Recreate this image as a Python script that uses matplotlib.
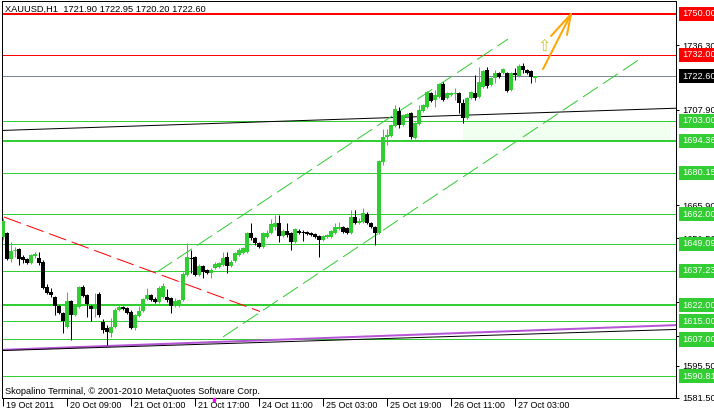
import matplotlib.pyplot as plt
from matplotlib.transforms import ScaledTranslation, blended_transform_factory
from matplotlib.patches import Rectangle

plt.rcParams['font.family'] = ['Liberation Sans', 'DejaVu Sans']
plt.rcParams['lines.scale_dashes'] = False

# XAUUSD H1, 19-27 Oct 2011
opens = [1652.0, 1653.8, 1642.3, 1645.9, 1646.7, 1643.2, 1642.3, 1640.6, 1643.7, 1642.8,
         1641.0, 1630.0, 1627.9, 1625.7, 1621.7, 1618.6, 1612.5, 1623.9, 1617.7, 1621.3,
         1630.0, 1626.5, 1621.7, 1620.4, 1627.0, 1614.7, 1612.0, 1609.8, 1612.5, 1619.9,
         1621.3, 1620.8, 1619.1, 1612.0, 1617.3, 1619.5, 1624.8, 1626.5, 1624.8, 1623.5,
         1625.7, 1625.7, 1625.2, 1621.7, 1621.7, 1624.3, 1635.3, 1643.2, 1643.2, 1635.3,
         1639.3, 1637.5, 1636.2, 1638.4, 1638.8, 1639.7, 1643.2, 1639.3, 1641.5, 1644.1,
         1645.0, 1645.4, 1653.8, 1651.6, 1649.4, 1647.6, 1652.0, 1653.8, 1656.4, 1658.2,
         1652.5, 1654.6, 1653.8, 1649.8, 1654.6, 1654.6, 1654.2, 1653.8, 1653.3, 1652.5,
         1650.7, 1652.0, 1652.0, 1653.8, 1655.5, 1656.4, 1656.0, 1653.8, 1660.8, 1658.2,
         1658.6, 1662.1, 1658.2, 1656.4, 1653.8, 1685.0, 1696.0, 1696.4, 1700.8, 1707.4,
         1701.2, 1704.7, 1706.5, 1695.5, 1701.7, 1707.4, 1709.1, 1715.3, 1712.2, 1713.5,
         1719.2, 1713.1, 1714.4, 1714.9, 1715.3, 1710.9, 1704.3, 1713.1, 1715.3, 1713.5,
         1717.9, 1725.4, 1718.8, 1721.9, 1724.1, 1724.1, 1724.1, 1716.6, 1724.1, 1722.8,
         1727.2, 1725.4, 1725.0, 1721.9]
closes = [1659.0, 1642.3, 1645.9, 1646.3, 1642.3, 1641.9, 1640.6, 1644.1, 1644.5, 1640.6,
          1629.6, 1627.4, 1626.5, 1621.7, 1618.6, 1615.1, 1623.9, 1617.7, 1621.7, 1630.0,
          1626.1, 1622.6, 1620.4, 1621.7, 1617.7, 1611.2, 1610.3, 1612.5, 1619.9, 1621.3,
          1620.4, 1618.6, 1612.0, 1617.7, 1619.5, 1624.8, 1626.5, 1624.3, 1623.5, 1629.6,
          1630.5, 1624.3, 1621.7, 1623.9, 1624.3, 1635.8, 1643.2, 1642.8, 1635.3, 1639.3,
          1636.6, 1636.2, 1637.5, 1640.2, 1640.6, 1642.8, 1639.3, 1641.0, 1645.0, 1646.3,
          1647.2, 1653.8, 1651.6, 1649.4, 1647.6, 1653.8, 1653.8, 1657.7, 1658.2, 1652.5,
          1654.6, 1652.9, 1649.8, 1655.5, 1653.8, 1654.2, 1653.3, 1652.9, 1652.0, 1650.7,
          1652.5, 1652.9, 1654.6, 1656.4, 1656.4, 1654.2, 1653.8, 1660.8, 1658.2, 1659.0,
          1662.6, 1658.2, 1656.4, 1653.8, 1685.4, 1696.0, 1696.8, 1701.2, 1708.3, 1701.2,
          1705.6, 1706.1, 1696.0, 1702.1, 1707.8, 1710.0, 1715.7, 1711.8, 1714.4, 1719.2,
          1712.2, 1715.3, 1715.3, 1715.3, 1710.9, 1704.3, 1713.1, 1715.7, 1713.1, 1720.1,
          1725.0, 1718.4, 1721.9, 1724.1, 1722.3, 1725.8, 1716.2, 1724.1, 1723.2, 1727.2,
          1725.4, 1724.1, 1722.3, 1722.6]
highs = [1660.4, 1654.2, 1649.8, 1647.6, 1647.2, 1644.1, 1642.8, 1644.5, 1645.4, 1645.4,
         1641.9, 1631.4, 1629.6, 1626.1, 1622.1, 1619.1, 1627.9, 1624.3, 1622.6, 1630.5,
         1630.9, 1627.0, 1622.1, 1627.4, 1627.9, 1616.0, 1613.4, 1616.4, 1620.8, 1622.1,
         1621.7, 1621.3, 1619.9, 1618.2, 1621.7, 1625.2, 1629.6, 1627.0, 1625.7, 1630.5,
         1631.8, 1629.2, 1625.7, 1625.2, 1624.8, 1636.6, 1649.4, 1646.3, 1643.7, 1640.2,
         1639.7, 1638.0, 1638.4, 1641.0, 1641.0, 1645.4, 1645.4, 1641.9, 1645.4, 1647.2,
         1647.6, 1654.2, 1658.2, 1652.0, 1649.8, 1654.2, 1655.1, 1659.9, 1661.7, 1661.7,
         1655.5, 1658.2, 1654.2, 1656.0, 1655.5, 1655.1, 1654.6, 1654.2, 1653.8, 1652.9,
         1652.9, 1653.3, 1655.1, 1658.2, 1658.6, 1656.9, 1656.4, 1663.9, 1663.9, 1660.4,
         1664.8, 1663.0, 1658.6, 1656.9, 1685.9, 1699.5, 1699.5, 1701.7, 1710.0, 1709.1,
         1706.1, 1706.5, 1706.9, 1702.6, 1710.0, 1710.5, 1716.2, 1715.7, 1716.6, 1719.7,
         1720.1, 1715.7, 1715.7, 1717.5, 1715.7, 1712.7, 1713.5, 1716.2, 1723.2, 1726.7,
         1725.4, 1726.7, 1722.3, 1725.4, 1724.5, 1726.3, 1724.5, 1724.5, 1726.3, 1728.0,
         1728.5, 1725.8, 1725.4, 1722.95]
lows = [1650.7, 1641.9, 1641.0, 1643.2, 1639.7, 1640.6, 1640.2, 1640.2, 1642.8, 1639.7,
        1629.2, 1627.0, 1625.7, 1617.7, 1618.2, 1609.8, 1612.0, 1606.8, 1617.3, 1620.8,
        1625.7, 1616.9, 1615.1, 1616.9, 1616.9, 1609.8, 1604.6, 1608.1, 1612.0, 1619.5,
        1619.9, 1618.2, 1611.6, 1611.2, 1616.9, 1619.1, 1624.3, 1623.9, 1623.0, 1623.0,
        1625.2, 1623.5, 1618.6, 1621.3, 1621.3, 1623.9, 1634.9, 1636.2, 1634.9, 1634.9,
        1634.0, 1635.8, 1634.0, 1638.0, 1638.4, 1639.3, 1636.2, 1638.8, 1641.0, 1643.7,
        1644.5, 1645.0, 1650.7, 1648.5, 1647.2, 1647.2, 1651.6, 1653.3, 1655.1, 1649.8,
        1652.0, 1652.0, 1646.3, 1649.4, 1653.3, 1650.3, 1652.9, 1652.5, 1651.6, 1643.2,
        1650.3, 1651.6, 1651.6, 1653.3, 1655.1, 1653.8, 1653.3, 1653.3, 1657.7, 1657.7,
        1658.2, 1657.7, 1656.0, 1648.5, 1653.3, 1683.6, 1692.4, 1696.0, 1700.4, 1699.9,
        1700.8, 1704.3, 1695.1, 1695.1, 1701.2, 1706.9, 1708.7, 1711.3, 1709.1, 1713.1,
        1711.8, 1712.7, 1714.0, 1712.2, 1706.5, 1702.1, 1703.9, 1712.7, 1712.2, 1713.1,
        1717.5, 1717.5, 1718.4, 1719.7, 1721.9, 1723.6, 1715.7, 1716.2, 1721.0, 1722.3,
        1724.1, 1723.6, 1719.7, 1720.2]

x_ticks = [0, 16, 32, 48, 64, 80, 96, 112, 128]
x_labels = ["19 Oct 2011", "20 Oct 09:00", "21 Oct 01:00", "21 Oct 17:00", "24 Oct 11:00",
            "25 Oct 03:00", "25 Oct 19:00", "26 Oct 11:00", "27 Oct 03:00"]
y_ticks = [1736.30, 1707.90, 1665.90, 1651.50, 1623.50, 1608.50, 1595.50, 1581.50]

# niveles horizontales: precio, color, grosor (px), color de la etiqueta
niveles = [
    (1750.00, "red", 2, "red"),
    (1732.00, "red", 1, "red"),
    (1722.60, "#778899", 1, "black"),
    (1703.00, "#32CD32", 1, "#32CD32"),
    (1694.36, "#32CD32", 2, "#32CD32"),
    (1680.15, "#32CD32", 1, "#32CD32"),
    (1662.00, "#32CD32", 1, "#32CD32"),
    (1649.09, "#32CD32", 1, "#32CD32"),
    (1637.23, "#32CD32", 1, "#32CD32"),
    (1622.00, "#32CD32", 2, "#32CD32"),
    (1615.00, "#32CD32", 1, "#32CD32"),
    (1607.00, "#32CD32", 1, "#32CD32"),
    (1590.81, "#32CD32", 1, "#32CD32"),
]

# lineas de tendencia: (x0, y0, x1, y1), color, grosor, discontinua
tendencias = [
    ((-0.75, 1698.8, 168.25, 1708.6), "black", 1, False),
    ((-0.75, 1602.4, 168.25, 1613.3), "#B655D6", 2, False),
    ((-0.75, 1602.1, 168.25, 1611.4), "black", 1, False),
    ((0.25, 1660.8, 64.25, 1619.3), "red", 1, True),
    ((38.5, 1636.6, 126.25, 1739.0), "#32CD32", 1, True),
    ((55.0, 1608.1, 160.0, 1731.1), "#32CD32", 1, True),
]
flechas = [(135, 1725.8, 142, 1750.0), (137, 1740.3, 142, 1750.0), (141, 1740.8, 142, 1750.0)]
zona = (115, 167, 1694.36, 1703.00)

PX = 0.72  # 1 px en puntos a 100 dpi

fig = plt.figure(figsize=(7.14, 4.16), dpi=100)
ax = fig.add_axes([2/714, 18.5/416, 674/714, 396.5/416])
ax.set_xlim(-0.25, 168.25)
ax.set_ylim(1581.5, 1755.7)

# zona sombreada
ax.add_patch(Rectangle((zona[0], zona[2]), zona[1] - zona[0], zona[3] - zona[2],
                       fc="#F0FFF0", ec="none", zorder=0))

for precio, color, lw, _ in niveles:
    ax.axhline(precio, color=color, lw=lw * PX, zorder=1)

for (x0, y0, x1, y1), color, lw, dash in tendencias:
    if dash:
        ax.plot([x0, x1], [y0, y1], color=color, lw=lw * PX, dashes=(13, 4.3), zorder=2)
    else:
        ax.plot([x0, x1], [y0, y1], color=color, lw=lw * PX, zorder=2)

for x0, y0, x1, y1 in flechas:
    ax.plot([x0, x1], [y0, y1], color="#FFA500", lw=2 * PX, solid_capstyle="round", zorder=4)
ax.text(135.2, 1735.6, "\u21e7", color="#C8C828", fontsize=11.5, ha="center", va="center",
        family="DejaVu Sans", zorder=4)

# velas
for i, (o, c, h, l) in enumerate(zip(opens, closes, highs, lows)):
    col = "#32CD32" if c >= o else "black"
    ax.vlines(i, l, h, color=col, lw=PX, zorder=3)
    alto = abs(c - o)
    if alto < 0.45:
        ax.hlines(c, i - 0.4, i + 0.4, color=col, lw=PX, zorder=3)
    else:
        ax.bar(i, alto, bottom=min(o, c), width=0.8, color=col, lw=0, zorder=3)

for s in ax.spines.values():
    s.set_color("black")
    s.set_linewidth(PX)

ax.set_xticks(x_ticks)
ax.set_xticklabels(x_labels, fontsize=6.5, ha="left")
ax.tick_params(axis="x", length=8 * PX, width=PX, pad=0, direction="out")
off = ScaledTranslation(3/100, 5/100, fig.dpi_scale_trans)
for lab in ax.get_xticklabels():
    lab.set_transform(lab.get_transform() + off)

ax.yaxis.tick_right()
ax.set_yticks(y_ticks)
ax.set_yticklabels([f"{v:.2f}" for v in y_ticks], fontsize=6.7)
ax.tick_params(axis="y", length=3 * PX, width=PX, pad=3 * PX, direction="out")

# etiquetas de precio de los niveles
for precio, _, _, fondo in niveles:
    ax.annotate(f"{precio:.2f}", xy=(1, precio), xycoords=("axes fraction", "data"),
                xytext=(6 * PX, 0), textcoords="offset points", ha="left", va="center",
                fontsize=6.7, color="white", annotation_clip=False, zorder=6,
                bbox=dict(boxstyle="square,pad=0.28", fc=fondo, ec="none"))

# marca magenta bajo el eje
ax.add_patch(Rectangle((52.5, -0.002), 0.5, -0.006,
                       transform=blended_transform_factory(ax.transData, ax.transAxes),
                       color="magenta", clip_on=False, zorder=6))

fig.text(5/714, 1 - 9.5/416, "XAUUSD,H1  1721.90 1722.95 1720.20 1722.60", fontsize=6.7,
         ha="left", va="center", color="black", zorder=10)
fig.text(5/714, 1 - 391/416, "Skopalino Terminal, \u00a9 2001-2010 MetaQuotes Software Corp.",
         fontsize=6.7, ha="left", va="center", color="black", zorder=10)

fig.savefig("out.png", dpi=100, facecolor="white")
